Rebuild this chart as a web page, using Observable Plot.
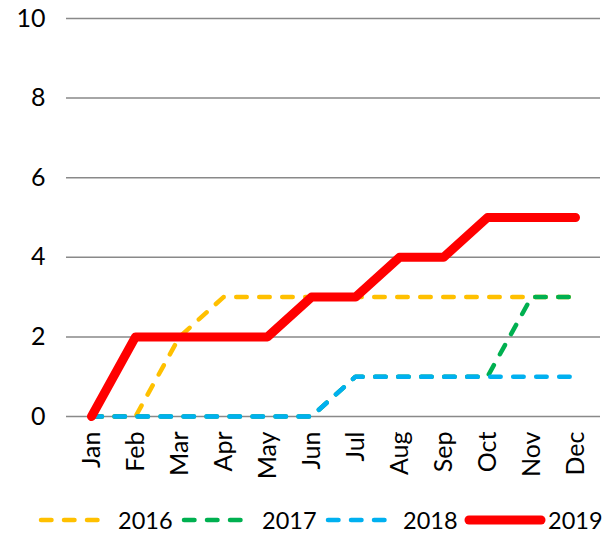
<!DOCTYPE html>
<html><head><meta charset="utf-8">
<script src="https://cdn.jsdelivr.net/npm/d3@7"></script>
<script src="https://cdn.jsdelivr.net/npm/@observablehq/plot@0.6"></script>
<style>
body{margin:0;background:#fff;font-family:Lato,sans-serif;}
#legend{position:relative;width:608px;height:47px;}
#legend .item{position:absolute;top:0;height:47px;}
#legend .lab{position:absolute;font-size:23.5px;line-height:24px;top:18px;color:#000;}
</style></head><body><div id="chart"></div><div id="legend"></div>
<script>
const months = ["Jan","Feb","Mar","Apr","May","Jun","Jul","Aug","Sep","Oct","Nov","Dec"];
const years = ["2016","2017","2018","2019"];
const v2016 = [0,0,2,3,3,3,3,3,3,3,3,3];
const v2017 = [0,0,0,0,0,0,1,1,1,1,3,3];
const v2018 = [0,0,0,0,0,0,1,1,1,1,1,1];
const v2019 = [0,2,2,2,2,3,3,4,4,5,5,5];
const colors = ["#FFC000","#00B050","#00B0F0","#FF0000"];
const yTicks = [0,2,4,6,8,10];

const series = [v2016, v2017, v2018, v2019];
const data = years.flatMap((yr, i) => months.map((m, j) => ({month: m, value: series[i][j], year: yr})));
const dash = "10.5 12.5";

const chart = Plot.plot({
  width: 608, height: 490,
  marginTop: 18, marginBottom: 74, marginLeft: 66, marginRight: 8,
  style: {fontFamily: "Lato, sans-serif", fontSize: "25px", color: "#000", background: "#fff"},
  x: {type: "point", domain: months, padding: 0.5, label: null},
  y: {domain: [0, 10], ticks: yTicks, label: null},
  marks: [
    Plot.gridY(yTicks, {stroke: "#898989", strokeOpacity: 1, strokeWidth: 1.5}),
    Plot.axisY(yTicks, {tickSize: 0, tickPadding: 21, label: null, fontSize: 25}),
    Plot.axisX({tickRotate: -90, tickSize: 0, tickPadding: 15, label: null, fontSize: 25}),
    ...years.slice(0, 3).map((yr, i) => Plot.line(data.filter(d => d.year === yr), {
      x: "month", y: "value", stroke: colors[i], strokeWidth: 4.5,
      strokeDasharray: dash, strokeLinecap: "round", strokeLinejoin: "round"
    })),
    Plot.line(data.filter(d => d.year === "2019"), {
      x: "month", y: "value", stroke: colors[3], strokeWidth: 9,
      strokeLinecap: "round", strokeLinejoin: "round"
    })
  ]
});
document.getElementById("chart").append(chart);

// legend
const legendPos = [
  {sw: 38, swW: 67, lab: 118},
  {sw: 181, swW: 67, lab: 262},
  {sw: 325, swW: 67, lab: 403},
  {sw: 464, swW: 82, lab: 548}
];
const lg = d3.select("#legend");
years.forEach((yr, i) => {
  const p = legendPos[i];
  const svg = lg.append("svg").attr("class", "item").style("left", p.sw + "px")
    .attr("width", p.swW).attr("height", 47);
  svg.append("line").attr("x1", i === 3 ? 5 : 3).attr("x2", i === 3 ? p.swW - 5 : p.swW - 3)
    .attr("y1", 30).attr("y2", 30)
    .attr("stroke", colors[i]).attr("stroke-width", i === 3 ? 9 : 4.5)
    .attr("stroke-linecap", "round")
    .attr("stroke-dasharray", i === 3 ? null : dash);
  lg.append("div").attr("class", "lab").style("left", p.lab + "px").text(yr);
});
</script></body></html>
